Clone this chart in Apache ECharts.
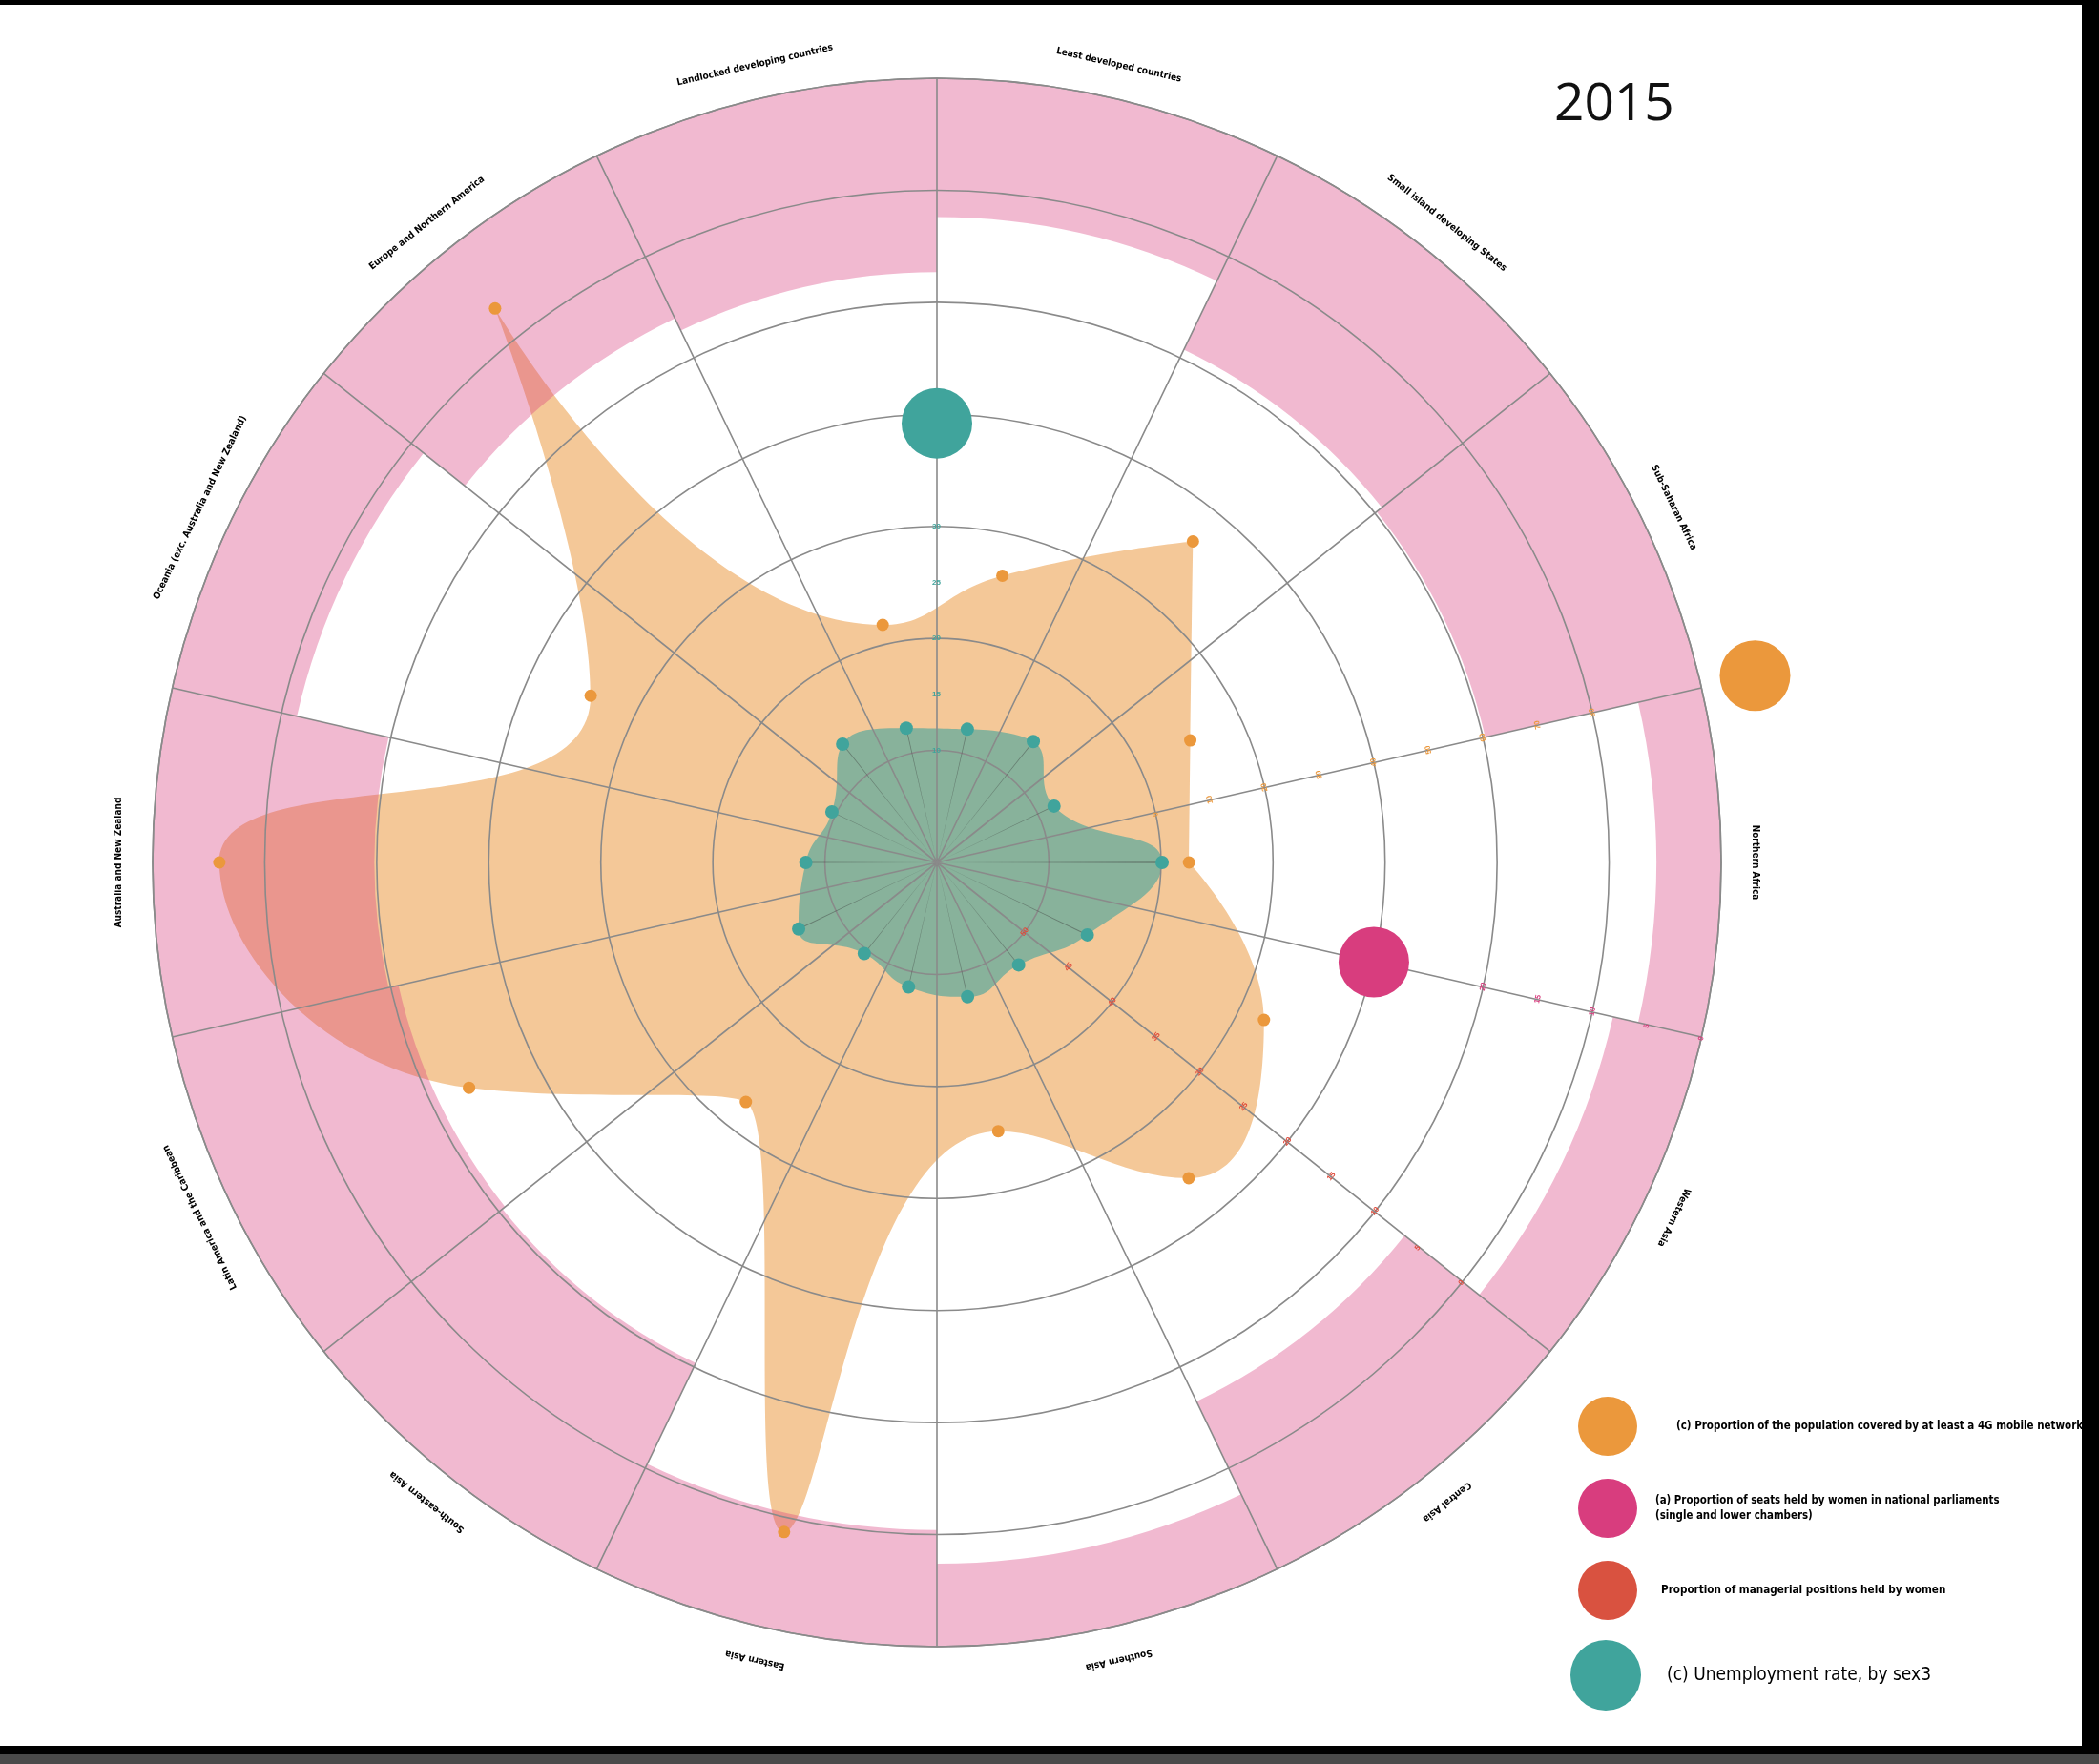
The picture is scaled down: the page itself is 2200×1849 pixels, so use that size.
<!DOCTYPE html>
<html><head><meta charset="utf-8">
<script src="https://cdn.jsdelivr.net/npm/echarts@6/dist/echarts.min.js"></script>
<style>html,body{margin:0;padding:0;background:#fff}#c{width:2200px;height:1849px}</style>
</head><body><div id="c"></div>
<script>
// ---------- data (clockwise from top) ----------
const categories = [
  'Least developed countries', 'Small island developing States', 'Sub-Saharan Africa',
  'Northern Africa', 'Western Asia', 'Central Asia', 'Southern Asia', 'Eastern Asia',
  'South-eastern Asia', 'Latin America and the Caribbean', 'Australia and New Zealand',
  'Oceania (exc. Australia and New Zealand)', 'Europe and Northern America',
  'Landlocked developing countries'
];
const coverage4G       = [12.5, 33.3, 10.2, 5.0, 24.8, 32.1, 9.2, 82.6, 14.7, 52.7, 88.1, 28.6, 86.5, 3.5];
const unemploymentRate = [12.2, 13.8, 11.6, 20.1, 14.9, 11.7, 12.3, 11.4, 10.4, 13.7, 11.7, 10.4, 13.5, 12.3];
const seatsHeldByWomen = [12.4, 19.2, 19.8, 5.8, 8.1, 16.6, 7.4, 10.4, 20.4, 20.7, 19.8, 11.4, 16.1, 17.3];
const managerialPositions = [];
const coverageTickLabels = [0, 10, 20, 30, 40, 50, 60, 70, 80];
const unemploymentTickLabels = [10, 15, 20, 25, 30];
const seatsTickLabels = [0, 5, 10, 15, 20];
const managerialTickLabels = [0, 5, 10, 15, 20, 25, 30, 35, 40, 45, 50];
const coverageMarker = 109.8;
const seatsMarker = 30;
const unemploymentMarker = 39.2;
const yearTitle = '2015';
const nameCoverage = '(c) Proportion of the population covered by at least a 4G mobile network';
const nameSeats = '(a) Proportion of seats held by women in national parliaments\n(single and lower chambers)';
const nameManagerial = 'Proportion of managerial positions held by women';
const nameUnemployment = '(c) Unemployment rate, by sex3';

// ---------- layout ----------
const N = categories.length, SECTOR = 360 / N;
const CENTER = [982, 904], RADIUS = 822;
const MAXR = 70;
const LABEL_R = 73;
const compass = i => (i + 0.5) * SECTOR;
const ORANGE = '#EB983C', MAGENTA = '#D83D7E', RED = '#D95240', TEAL = '#40A49C';
const GRID = '#8a8a8a';
const NARROW = '"Liberation Sans Narrow", "DejaVu Sans Condensed", "Roboto Condensed", sans-serif';

function loop(values, startIdx, offset) {
  const pts = [];
  for (let k = 0; k <= N; k++) {
    const i = (startIdx + k) % N;
    let a = ((compass(i) - offset) % 360 + 360) % 360;
    if (k === N) a += 360;
    pts.push([values[i], a]);
  }
  return pts;
}
function dots(values, offset) {
  return values.map((v, i) => [v, ((compass(i) - offset) % 360 + 360) % 360]);
}
function tickFmt(list) { return v => (list.indexOf(Math.round(v * 100) / 100) >= 0 ? String(v) : ''); }

const coverageSpoke = 3 * SECTOR, seatsSpoke = 4 * SECTOR, managerialSpoke = 5 * SECTOR;

const hiddenRadius = (idx, extra) => Object.assign({
  polarIndex: idx, type: 'value', axisLine: { show: false }, axisTick: { show: false },
  splitLine: { show: false }, splitArea: { show: false }, z: 8
}, extra);

const option = {
  animation: false,
  backgroundColor: '#ffffff',
  title: {
    text: yearTitle, left: 1624, top: 78,
    textStyle: { fontSize: 55, fontWeight: 'normal', fontFamily: '"Open Sans", sans-serif', color: '#111' }
  },
  polar: [0, 1, 2, 3, 4, 5].map(() => ({ center: CENTER, radius: RADIUS })),
  angleAxis: [
    { polarIndex: 0, type: 'category', data: categories, startAngle: 90, boundaryGap: true,
      axisLine: { show: true, lineStyle: { color: GRID, width: 1.6 } }, axisTick: { show: false },
      axisLabel: { show: false }, splitLine: { show: true, lineStyle: { color: GRID, width: 1.6 } }, z: 4 },
    { polarIndex: 1, type: 'category', data: categories, startAngle: 90, show: false },
    { polarIndex: 2, type: 'value', min: 0, max: 360, startAngle: 90 - coverageSpoke, show: false },
    { polarIndex: 3, type: 'value', min: 0, max: 360, startAngle: 90, show: false },
    { polarIndex: 4, type: 'value', min: 0, max: 360, startAngle: 90 - seatsSpoke, show: false },
    { polarIndex: 5, type: 'value', min: 0, max: 360, startAngle: 90 - managerialSpoke, show: false }
  ],
  radiusAxis: [
    { polarIndex: 0, type: 'value', min: 0, max: MAXR, interval: 10,
      axisLine: { show: false }, axisTick: { show: false }, axisLabel: { show: false },
      splitLine: { show: true, lineStyle: { color: GRID, width: 1.6 } }, z: 4 },
    { polarIndex: 1, type: 'value', min: 0, max: MAXR, show: false },
    hiddenRadius(2, { min: -40, max: 100, interval: 10,
      axisLabel: { formatter: tickFmt(coverageTickLabels), color: ORANGE, fontSize: 8, fontWeight: 'bold', margin: -4, rotate: 90 - coverageSpoke + 90 } }),
    hiddenRadius(3, { min: 0, max: MAXR, interval: 5,
      axisLabel: { formatter: tickFmt(unemploymentTickLabels), color: TEAL, fontSize: 8, fontWeight: 'bold', margin: -4, rotate: 0 } }),
    hiddenRadius(4, { min: 0, max: MAXR, interval: 5, inverse: true,
      axisLabel: { formatter: tickFmt(seatsTickLabels), color: MAGENTA, fontSize: 8, fontWeight: 'bold', margin: -4, rotate: 90 - seatsSpoke + 90 } }),
    hiddenRadius(5, { min: -10, max: 60, interval: 5, inverse: true,
      axisLabel: { formatter: tickFmt(managerialTickLabels), color: '#E04A3A', fontSize: 8, fontWeight: 'bold', margin: -4, rotate: 90 - managerialSpoke + 90 } })
  ],
  legend: [
    { orient: 'vertical', left: 1649, top: 1459, itemWidth: 62, itemHeight: 62, itemGap: 24, icon: 'circle',
      selectedMode: false,
      textStyle: { fontSize: 11.5, fontWeight: 'bold', fontFamily: NARROW, color: '#000' },
      data: [
        { name: nameCoverage, itemStyle: { color: ORANGE, opacity: 1 }, textStyle: { fontSize: 11.5, padding: [0, 0, 0, 36] } },
        { name: nameSeats, itemStyle: { color: MAGENTA, opacity: 1 }, textStyle: { fontSize: 11.4, padding: [0, 0, 0, 14], lineHeight: 16 } },
        { name: nameManagerial, itemStyle: { color: RED, opacity: 1 }, textStyle: { fontSize: 11.6, padding: [0, 0, 0, 20] } }
      ] },
    { orient: 'vertical', left: 1641, top: 1714, itemWidth: 74, itemHeight: 74, icon: 'circle', selectedMode: false,
      textStyle: { fontSize: 19, fontFamily: NARROW, color: '#000' },
      data: [{ name: nameUnemployment, itemStyle: { color: TEAL, opacity: 1 }, textStyle: { padding: [0, 0, 0, 22] } }] }
  ],
  graphic: [
    { type: 'rect', shape: { x: 0, y: 0, width: 2200, height: 5 }, style: { fill: '#000' }, z: 100 },
    { type: 'rect', shape: { x: 2182, y: 0, width: 18, height: 1849 }, style: { fill: '#000' }, z: 100 },
    { type: 'rect', shape: { x: 0, y: 1830, width: 2200, height: 8 }, style: { fill: '#000' }, z: 100 },
    { type: 'rect', shape: { x: 0, y: 1838, width: 2200, height: 11 }, style: { fill: '#4a4a4a' }, z: 100 }
  ],
  series: [
    { name: 'coverageArea', type: 'line', coordinateSystem: 'polar', polarIndex: 2,
      data: loop(coverage4G, 3, coverageSpoke), smooth: 0.5, showSymbol: false, silent: true,
      lineStyle: { width: 0, opacity: 0 }, areaStyle: { color: ORANGE, opacity: 0.53, origin: 'start' }, z: 1 },
    { name: 'unemploymentArea', type: 'line', coordinateSystem: 'polar', polarIndex: 3,
      data: loop(unemploymentRate, 0, 0), smooth: 0.5, showSymbol: false, silent: true,
      lineStyle: { width: 0, opacity: 0 }, areaStyle: { color: TEAL, opacity: 0.6, origin: 'start' }, z: 2 },
    { name: 'seatsBase', type: 'bar', coordinateSystem: 'polar', polarIndex: 0, stack: 'seats',
      data: seatsHeldByWomen.map(v => MAXR - v), barCategoryGap: '0%', silent: true,
      itemStyle: { color: 'rgba(0,0,0,0)' }, z: 3 },
    { name: 'seatsBars', type: 'bar', coordinateSystem: 'polar', polarIndex: 0, stack: 'seats',
      data: seatsHeldByWomen, barCategoryGap: '0%', silent: true,
      itemStyle: { color: MAGENTA, opacity: 0.36 }, z: 3 },
    { name: 'unemploymentStems', type: 'bar', coordinateSystem: 'polar', polarIndex: 1,
      data: unemploymentRate, barWidth: 0.35, silent: true,
      itemStyle: { color: 'rgba(60,60,60,0.45)' }, z: 4 },
    { name: 'coverageDots', type: 'scatter', coordinateSystem: 'polar', polarIndex: 2,
      data: dots(coverage4G, coverageSpoke), symbolSize: 13, itemStyle: { color: ORANGE, opacity: 1 }, z: 6, clip: false },
    { name: 'unemploymentDots', type: 'scatter', coordinateSystem: 'polar', polarIndex: 3,
      data: dots(unemploymentRate, 0), symbolSize: 14, itemStyle: { color: TEAL, opacity: 1 }, z: 6 },
    { name: 'categoryLabels', type: 'scatter', coordinateSystem: 'polar', polarIndex: 3, clip: false, silent: true,
      symbolSize: 2, itemStyle: { color: 'rgba(255,255,255,0)' }, z: 9,
      label: { show: true, position: 'inside', formatter: p => p.name, color: '#000', fontSize: 10,
        fontWeight: 'bold', fontFamily: NARROW, opacity: 1 },
      data: categories.map((name, i) => ({ name, value: [LABEL_R, compass(i)], label: { rotate: -compass(i) } })) },
    { name: nameCoverage, type: 'scatter', coordinateSystem: 'polar', polarIndex: 2, clip: false,
      data: [[coverageMarker, 0]], symbolSize: 74, itemStyle: { color: ORANGE, opacity: 1 }, z: 7 },
    { name: nameSeats, type: 'scatter', coordinateSystem: 'polar', polarIndex: 4, clip: false,
      data: [[seatsMarker, 0]], symbolSize: 74, itemStyle: { color: MAGENTA, opacity: 1 }, z: 7 },
    { name: nameUnemployment, type: 'scatter', coordinateSystem: 'polar', polarIndex: 3, clip: false,
      data: [[unemploymentMarker, 0]], symbolSize: 74, itemStyle: { color: TEAL, opacity: 1 }, z: 7 },
    { name: nameManagerial, type: 'scatter', coordinateSystem: 'polar', polarIndex: 5,
      data: managerialPositions, symbolSize: 10, itemStyle: { color: RED }, z: 7 }
  ]
};
const chart = echarts.init(document.getElementById('c'), null, { renderer: 'canvas' });
chart.setOption(option);
</script></body></html>
